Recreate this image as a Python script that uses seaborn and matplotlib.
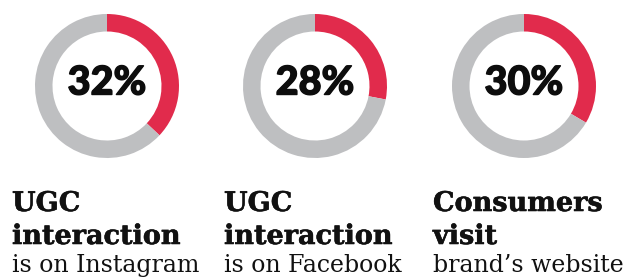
import matplotlib
matplotlib.use("Agg")
import matplotlib.pyplot as plt
import matplotlib.patheffects as pe
import seaborn as sns

# values shown in the middle of each ring
pct_labels = [32, 28, 30]
# share of the ring painted red, as drawn in the picture
red_share = [0.37, 0.28, 0.335]
head_line1 = ["UGC", "UGC", "Consumers"]
head_line2 = ["interaction", "interaction", "visit"]
sub_line = ["is on Instagram", "is on Facebook", "brand\u2019s website"]

RED = "#e12b4c"
GREY = "#bebfc1"
INK = "#111111"

sns.set_theme(style="white")

W, H = 624, 280
fig = plt.figure(figsize=(W / 100, H / 100), dpi=100)
ax = fig.add_axes([0, 0, 1, 1])

ring_x = [107, 315, 524]
text_x = [12, 224, 433]
ring_y = H - 86

heavy = [pe.withStroke(linewidth=1.0, foreground="#0d0d0d")]
semi = [pe.withStroke(linewidth=0.4, foreground=INK)]

for i in range(3):
    ax.pie([red_share[i], 1 - red_share[i]], colors=[RED, GREY],
           startangle=90, counterclock=False, radius=72,
           center=(ring_x[i], ring_y),
           wedgeprops=dict(width=17.5, linewidth=0))
    ax.text(ring_x[i], H - 83, f"{pct_labels[i]}%", ha="center", va="center",
            fontsize=28.5, fontweight="black", family=["Lato", "DejaVu Sans"],
            color="#0d0d0d", path_effects=heavy)
    ax.text(text_x[i], H - 211, head_line1[i], ha="left", va="baseline",
            fontsize=19.5, fontweight="bold", family="DejaVu Serif", color=INK,
            path_effects=semi)
    ax.text(text_x[i], H - 244, head_line2[i], ha="left", va="baseline",
            fontsize=19.5, fontweight="bold", family="DejaVu Serif", color=INK,
            path_effects=semi)
    ax.text(text_x[i], H - 272, sub_line[i], ha="left", va="baseline",
            fontsize=17, family="DejaVu Serif", color=INK)

ax.set_xlim(0, W)
ax.set_ylim(0, H)
ax.set_aspect("equal")
ax.axis("off")

fig.savefig("out.png", dpi=100)
